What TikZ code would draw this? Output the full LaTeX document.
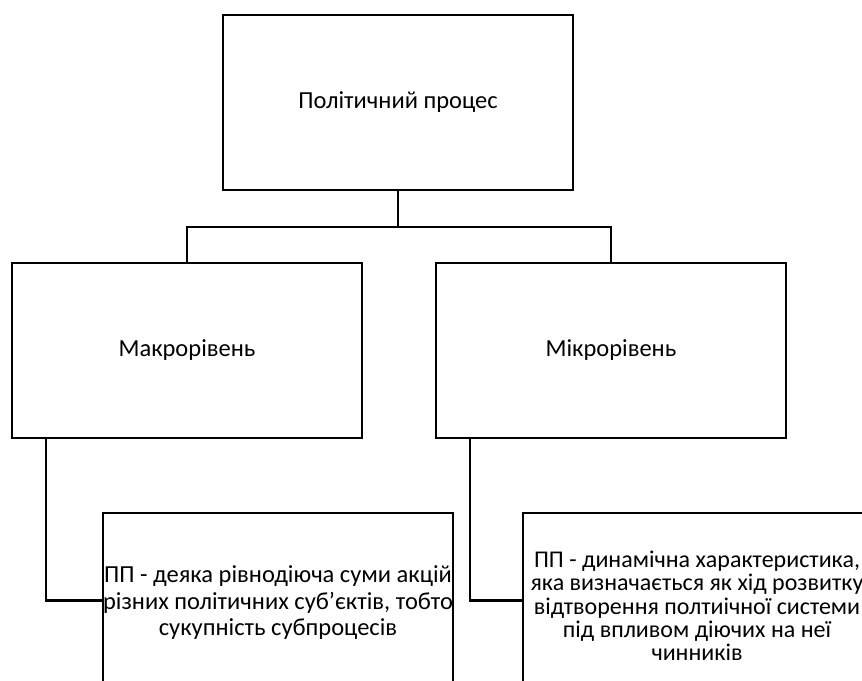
\documentclass[tikz,border=0pt]{standalone}
\usepackage{fontspec}
\setmainfont{Carlito}
\begin{document}
\begin{tikzpicture}[x=1pt,y=-1pt,
  box/.style={draw=black, line width=2.5pt, minimum width=350pt, minimum height=175pt, inner sep=0pt, align=center, font=\fontsize{24.5}{26.5}\selectfont},
  txt/.style={inner sep=0pt, align=center, font=\fontsize{24.5}{26.5}\selectfont},
  conn/.style={draw=black, line width=2.5pt}]
\useasboundingbox (0,0) rectangle (862,680);
\node[box] (top) at (398,102.5) {Політичний процес};
\node[box] (macro) at (187,350.5) {Макрорівень};
\node[box] (micro) at (611,350.5) {Мікрорівень};
\node[box] (ll) at (278,600.5) {};
\node[txt] (llt) at (278,603) {ПП - деяка рівнодіюча суми акцій\\різних політичних суб’єктів, тобто\\сукупність субпроцесів};
\node[box] (rr) at (698,600.5) {};
\node[txt, font=\fontsize{24}{23.3}\selectfont] (rrt) at (697,606) {ПП - динамічна характеристика,\\яка визначається як хід розвитку\\відтворення полтиічної системи\\під впливом діючих на неї\\чинників};
\coordinate (j) at (398,227);
\draw[conn] (top.south) -- (j);
\draw[conn] (macro.north) |- (j) -| (micro.north);
\draw[conn] ([xshift=35pt]macro.south west) |- (ll.west);
\draw[conn] ([xshift=35pt]micro.south west) |- (rr.west |- ll.west);
\end{tikzpicture}
\end{document}
